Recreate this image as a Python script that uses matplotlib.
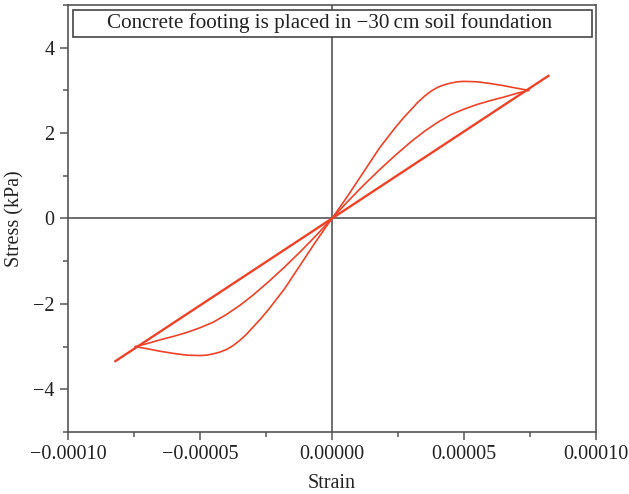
import matplotlib
matplotlib.use("Agg")
import matplotlib.pyplot as plt
from matplotlib.patches import Rectangle
from matplotlib.ticker import FixedLocator, FuncFormatter

plt.rcParams['font.family'] = ['Liberation Serif', 'DejaVu Serif']
plt.rcParams['axes.unicode_minus'] = True

# hysteresis branches (strain, stress in kPa)
line_strain = [-8.2e-5, 0.0, 8.2e-5]
line_stress = [-3.34, 0.0, 3.34]

mid_strain = [-7.45e-5, -7.0e-5, -6.5e-5, -6.0e-5, -5.5e-5, -5.0e-5, -4.5e-5, -4.0e-5,
              -3.5e-5, -3.0e-5, -2.4e-5, -1.8e-5, -1.2e-5, -0.6e-5, 0.0,
              0.6e-5, 1.2e-5, 1.8e-5, 2.4e-5, 3.0e-5, 3.5e-5, 4.0e-5, 4.5e-5,
              5.0e-5, 5.5e-5, 6.0e-5, 6.5e-5, 7.0e-5, 7.45e-5]
mid_stress = [-3.00, -2.93, -2.84, -2.76, -2.67, -2.56, -2.43, -2.25,
              -2.04, -1.80, -1.48, -1.14, -0.78, -0.40, 0.0,
              0.40, 0.78, 1.14, 1.48, 1.80, 2.04, 2.25, 2.43,
              2.56, 2.67, 2.76, 2.84, 2.93, 3.00]

outer_strain = [-7.45e-5, -7.0e-5, -6.5e-5, -6.0e-5, -5.5e-5, -5.0e-5, -4.75e-5, -4.5e-5,
                -4.25e-5, -4.0e-5, -3.75e-5, -3.5e-5, -3.25e-5, -3.0e-5, -2.7e-5,
                -2.4e-5, -1.8e-5, -1.2e-5, -0.6e-5, 0.0,
                0.6e-5, 1.2e-5, 1.8e-5, 2.4e-5, 2.7e-5, 3.0e-5, 3.25e-5, 3.5e-5,
                3.75e-5, 4.0e-5, 4.25e-5, 4.5e-5, 4.75e-5, 5.0e-5, 5.5e-5,
                6.0e-5, 6.5e-5, 7.0e-5, 7.45e-5]
outer_stress = [-3.00, -3.05, -3.11, -3.16, -3.20, -3.21, -3.20, -3.17,
                -3.13, -3.07, -2.98, -2.86, -2.72, -2.55, -2.35,
                -2.13, -1.65, -1.09, -0.53, 0.0,
                0.53, 1.09, 1.65, 2.13, 2.35, 2.55, 2.72, 2.86,
                2.98, 3.07, 3.13, 3.17, 3.20, 3.21, 3.20,
                3.16, 3.11, 3.05, 3.00]

x_major = [-1e-4, -5e-5, 0.0, 5e-5, 1e-4]
x_minor = [-7.5e-5, -2.5e-5, 2.5e-5, 7.5e-5]
y_major = [-4, -2, 0, 2, 4]
y_minor = [-5, -3, -1, 1, 3, 5]

title_text = "Concrete footing is placed in \u221230\u2009cm soil foundation"

red = '#ec4227'
frame = '#555555'

fig = plt.figure(figsize=(6.29, 4.94), dpi=100)
ax = fig.add_axes([0.108, 0.1255, 0.8395, 0.8645])

ax.axhline(0, color=frame, lw=1.2, zorder=1)
ax.axvline(0, color=frame, lw=1.2, zorder=1)

ax.plot(line_strain, line_stress, color=red, lw=1.7, zorder=3)
ax.plot(mid_strain, mid_stress, color=red, lw=1.2, zorder=3)
ax.plot(outer_strain, outer_stress, color=red, lw=1.2, zorder=3)

ax.set_xlim(-1e-4, 1e-4)
ax.set_ylim(-5, 5)

ax.xaxis.set_major_locator(FixedLocator(x_major))
ax.xaxis.set_minor_locator(FixedLocator(x_minor))
ax.yaxis.set_major_locator(FixedLocator(y_major))
ax.yaxis.set_minor_locator(FixedLocator(y_minor))
ax.xaxis.set_major_formatter(FuncFormatter(lambda v, p: ("%.5f" % v).replace('-', '\u2212')))
ax.yaxis.set_major_formatter(FuncFormatter(lambda v, p: ("%d" % round(v)).replace('-', '\u2212')))

ax.tick_params(which='both', direction='out', color=frame, labelsize=14.5, labelcolor='#222222')
ax.tick_params(which='major', length=6, width=1.1)
ax.tick_params(which='minor', length=3.5, width=1.1)

for s in ax.spines.values():
    s.set_color(frame)
    s.set_linewidth(1.2)

ax.set_xlabel("Strain", fontsize=14.5, color='#222222', labelpad=7)
ax.set_ylabel("Stress (kPa)", fontsize=14.5, color='#222222', labelpad=6)

# boxed caption along the top of the plot area
ax.add_patch(Rectangle((0.0095, 0.925), 0.9825, 0.063, transform=ax.transAxes,
                       facecolor='white', edgecolor='#444444', lw=1.2, zorder=4))
ax.text(0.496, 0.957, title_text, transform=ax.transAxes, ha='center', va='center',
        fontsize=15.2, color='#222222', zorder=5)

fig.savefig("out.png", dpi=100)
